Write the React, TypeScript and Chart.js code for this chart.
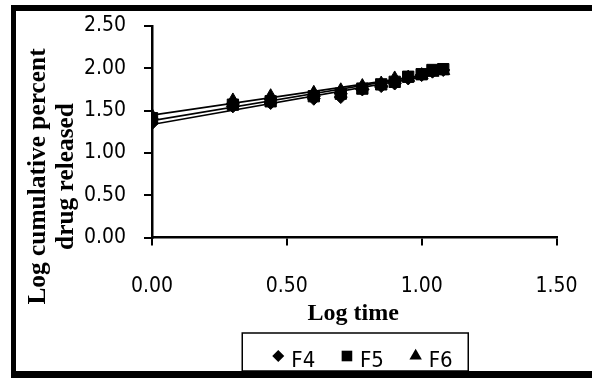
import React, { useEffect, useRef } from 'react';
import { Chart, registerables } from 'chart.js';

Chart.register(...registerables);

// ---- data ----
const logTime = [0, 0.30, 0.44, 0.60, 0.70, 0.78, 0.85, 0.90, 0.95, 1.00, 1.04, 1.08];
const f4 = [1.35, 1.55, 1.59, 1.64, 1.66, 1.75, 1.79, 1.82, 1.88, 1.92, 1.96, 1.98];
const f5 = [1.41, 1.57, 1.61, 1.67, 1.70, 1.76, 1.81, 1.84, 1.90, 1.93, 1.98, 1.99];
const f6 = [1.44, 1.62, 1.67, 1.71, 1.74, 1.79, 1.82, 1.88, 1.89, 1.92, 1.95, 1.97];
const seriesNames = ['F4', 'F5', 'F6'];
const seriesValues = [f4, f5, f6];
const pointStyles = ['rectRot', 'rect', 'triangle'];
const pointSizes = [6.5, 8, 7.5];
const xTicks = [0, 0.5, 1.0, 1.5];
const yTicks = [0, 0.5, 1.0, 1.5, 2.0, 2.5];
const xTitle = 'Log time';
const yTitle = ['Log cumulative percent', 'drug released'];

const TICK_FONT = "'DejaVu Sans Condensed', 'DejaVu Sans', sans-serif";
const TITLE_FONT = "'Liberation Serif', 'Times New Roman', serif";

function linearFit(xs: number[], ys: number[]) {
  const n = xs.length;
  let sx = 0, sy = 0, sxx = 0, sxy = 0;
  for (let i = 0; i < n; i++) {
    sx += xs[i]; sy += ys[i]; sxx += xs[i] * xs[i]; sxy += xs[i] * ys[i];
  }
  const b = (n * sxy - sx * sy) / (n * sxx - sx * sx);
  const a = (sy - b * sx) / n;
  return { a, b };
}

function drawMarker(ctx: CanvasRenderingContext2D, style: string, x: number, y: number, r: number) {
  ctx.beginPath();
  if (style === 'rectRot') {
    ctx.moveTo(x - r, y); ctx.lineTo(x, y - r); ctx.lineTo(x + r, y); ctx.lineTo(x, y + r);
  } else if (style === 'rect') {
    const s = r * Math.SQRT1_2;
    ctx.rect(x - s, y - s, 2 * s, 2 * s);
  } else {
    const h = r * 1.5;
    const w = r * Math.sqrt(3) / 2;
    ctx.moveTo(x, y - r); ctx.lineTo(x + w, y + h - r); ctx.lineTo(x - w, y + h - r);
  }
  ctx.closePath();
  ctx.fill();
}

const framePlugin = {
  id: 'frame',
  beforeDraw(chart: any) {
    const ctx = chart.ctx;
    ctx.save();
    ctx.fillStyle = '#ffffff';
    ctx.fillRect(0, 0, chart.width, chart.height);
    ctx.restore();
  },
  afterDraw(chart: any) {
    const ctx = chart.ctx;
    const area = chart.chartArea;
    ctx.save();
    // outer thick frame
    ctx.fillStyle = '#000';
    ctx.fillRect(11, 5, chart.width - 11, 6);
    ctx.fillRect(11, 5, 5, 373);
    ctx.fillRect(11, 371, chart.width - 11, 7);

    // axis titles
    ctx.fillStyle = '#000';
    ctx.textAlign = 'center';
    ctx.textBaseline = 'alphabetic';
    const cx = (area.left + area.right) / 2;
    ctx.font = `bold 24px ${TITLE_FONT}`;
    ctx.fillText(xTitle, cx - 1, 320);

    ctx.save();
    ctx.font = `bold 25.4px ${TITLE_FONT}`;
    ctx.translate(0, 176.5);
    ctx.rotate(-Math.PI / 2);
    ctx.fillText(yTitle[0], 0, 45);
    ctx.fillText(yTitle[1], 0, 73);
    ctx.restore();

    // legend
    const boxW = 226;
    const boxL = cx - boxW / 2 + 1;
    const boxT = 333;
    ctx.lineWidth = 1.5;
    ctx.strokeStyle = '#000';
    ctx.strokeRect(boxL, boxT, boxW, 371 - boxT);
    ctx.font = `22px ${TICK_FONT}`;
    ctx.textAlign = 'left';
    const legendMarker = [6, 7.5, 7.2];
    seriesNames.forEach((name, i) => {
      const mx = boxL + 36 + i * 68.7;
      const my = 356;
      drawMarker(ctx, pointStyles[i], mx, my, legendMarker[i]);
      ctx.fillText(name, mx + 13, 366.5);
    });
    ctx.restore();
  },
};

export default function App() {
  const canvasRef = useRef<HTMLCanvasElement | null>(null);

  useEffect(() => {
    if (!canvasRef.current) return;
    const datasets: any[] = [];
    seriesNames.forEach((name, i) => {
      const ys = seriesValues[i];
      datasets.push({
        type: 'scatter',
        label: name,
        data: logTime.map((x, j) => ({ x, y: ys[j] })),
        showLine: false,
        pointStyle: pointStyles[i],
        pointRadius: pointSizes[i],
        pointBackgroundColor: '#000',
        pointBorderColor: '#000',
        pointBorderWidth: 1,
        order: 0,
      });
    });
    seriesNames.forEach((name, i) => {
      const ys = seriesValues[i];
      const { a, b } = linearFit(logTime, ys);
      const x0 = Math.min(...logTime);
      const x1 = Math.max(...logTime);
      datasets.push({
        type: 'line',
        label: name + ' trend',
        data: [{ x: x0, y: a + b * x0 }, { x: x1, y: a + b * x1 }],
        borderColor: '#000',
        borderWidth: 1.6,
        pointRadius: 0,
        fill: false,
        order: 1,
      });
    });

    const tickFont = { family: TICK_FONT, size: 21 };
    const chart = new Chart(canvasRef.current, {
      type: 'scatter',
      data: { datasets },
      plugins: [framePlugin],
      options: {
        animation: false,
        responsive: false,
        devicePixelRatio: 1,
        layout: { padding: { top: 26, right: 35.5, left: 0, bottom: 0 } },
        plugins: { legend: { display: false }, tooltip: { enabled: false }, title: { display: false } },
        scales: {
          x: {
            type: 'linear',
            min: 0,
            max: 1.5,
            afterBuildTicks: (s: any) => { s.ticks = xTicks.map((v) => ({ value: v })); },
            afterFit: (s: any) => { s.height = 141.5; s.paddingLeft = 0; s.paddingRight = 0; },
            ticks: { font: tickFont, color: '#000', padding: 28, maxRotation: 0, callback: (v: any) => Number(v).toFixed(2) },
            grid: { drawOnChartArea: false, drawTicks: true, tickLength: 8, color: '#000', lineWidth: 2 },
            border: { display: true, color: '#000', width: 2.5 },
          },
          y: {
            type: 'linear',
            min: 0,
            max: 2.5,
            afterBuildTicks: (s: any) => { s.ticks = yTicks.map((v) => ({ value: v })); },
            afterFit: (s: any) => { s.width = 152; s.paddingTop = 0; s.paddingBottom = 0; },
            ticks: { font: tickFont, color: '#000', padding: 18, callback: (v: any) => Number(v).toFixed(2) },
            grid: { drawOnChartArea: false, drawTicks: true, tickLength: 8, color: '#000', lineWidth: 2 },
            border: { display: true, color: '#000', width: 2.5 },
          },
        },
      } as any,
    });
    return () => chart.destroy();
  }, []);

  return (
    <div style={{ position: 'absolute', left: 0, top: 0, width: 592, height: 379 }}>
      <canvas ref={canvasRef} width={592} height={379} style={{ display: 'block' }} />
    </div>
  );
}
